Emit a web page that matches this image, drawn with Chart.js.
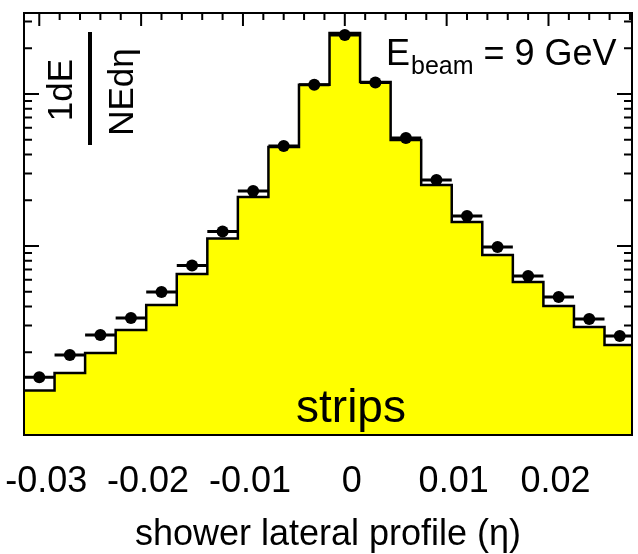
<!DOCTYPE html>
<html>
<head>
<meta charset="utf-8">
<script src="https://cdn.jsdelivr.net/npm/chart.js@4"></script>
<style>
  html, body { margin: 0; padding: 0; background: #fff; }
  canvas { display: block; }
</style>
</head>
<body>
<canvas id="chart" width="638" height="554"></canvas>
<script>
// strip bins in eta (centres), width of one strip
const binCenters = [-0.030, -0.027, -0.024, -0.021, -0.018, -0.015, -0.012, -0.009, -0.006, -0.003,
                     0.000,  0.003,  0.006,  0.009,  0.012,  0.015,  0.018,  0.021,  0.024,  0.027];
const binWidth = 0.003;

// simulation (yellow histogram)
const simValues = [0.112, 0.146, 0.198, 0.280, 0.409, 0.654, 1.12, 2.10, 4.48, 11.5,
                   25.2, 12.0, 4.98, 2.52, 1.44, 0.873, 0.580, 0.403, 0.293, 0.223];
// test beam data (black points)
const dataValues = [0.137, 0.192, 0.260, 0.336, 0.498, 0.744, 1.245, 2.30, 4.55, 11.5,
                    24.4, 11.9, 5.14, 2.72, 1.575, 0.985, 0.635, 0.462, 0.331, 0.256];

const xTickValues = [-0.03, -0.02, -0.01, 0, 0.01, 0.02];
const xTickLabels = ['-0.03', '-0.02', '-0.01', '0', '0.01', '0.02'];

const FONT = "'Liberation Sans', Arial, sans-serif";

// step outline: one point per bin low edge, plus the last high edge
// (chart.js 'before' holds each value until the next point)
const histPoints = binCenters.map((c, i) => ({ x: c - binWidth / 2, y: simValues[i] }));
histPoints.push({ x: binCenters[binCenters.length - 1] + binWidth / 2, y: simValues[simValues.length - 1] });

const dataPoints = binCenters.map((c, i) => ({ x: c, y: dataValues[i] }));

const frameTicks = {
    id: 'frameTicks',
    beforeDatasetsDraw(chart) {
        const { ctx, chartArea: a, scales: { x, y } } = chart;
        ctx.save();
        ctx.strokeStyle = '#000';
        ctx.lineWidth = 2;
        ctx.beginPath();
        // top ticks, every 0.002
        for (let i = -15; i <= 14; i++) {
            const px = x.getPixelForValue(i * 0.002);
            if (px < a.left || px > a.right) continue;
            const len = (i % 5 === 0) ? 13 : 7;
            ctx.moveTo(px, a.top);
            ctx.lineTo(px, a.top + len);
        }
        // log ticks left and right
        for (let e = -2; e <= 1; e++) {
            for (let m = 1; m <= 9; m++) {
                const v = m * Math.pow(10, e);
                if (v < y.min || v > y.max) continue;
                const py = y.getPixelForValue(v);
                const len = m === 1 ? 15 : 8;
                ctx.moveTo(a.left, py); ctx.lineTo(a.left + len, py);
                ctx.moveTo(a.right, py); ctx.lineTo(a.right - len, py);
            }
        }
        ctx.stroke();
        ctx.restore();
    },
    afterDatasetsDraw(chart) {
        const { ctx, chartArea: a, scales: { x, y } } = chart;
        ctx.save();
        // horizontal error bars = strip width
        ctx.strokeStyle = '#000';
        ctx.lineWidth = 3;
        ctx.beginPath();
        dataPoints.forEach(p => {
            const py = y.getPixelForValue(p.y);
            ctx.moveTo(Math.max(a.left, x.getPixelForValue(p.x - binWidth / 2)), py);
            ctx.lineTo(Math.min(a.right, x.getPixelForValue(p.x + binWidth / 2)), py);
        });
        ctx.stroke();

        // frame
        ctx.lineWidth = 2;
        ctx.strokeRect(a.left, a.top, a.right - a.left, a.bottom - a.top);

        ctx.fillStyle = '#000';
        ctx.textAlign = 'left';
        ctx.textBaseline = 'alphabetic';

        // E_beam label
        let tx = a.left + 362;
        ctx.font = '36px ' + FONT;
        ctx.fillText('E', tx, a.top + 52);
        tx += ctx.measureText('E').width + 1;
        ctx.font = '25px ' + FONT;
        ctx.fillText('beam', tx, a.top + 61);
        tx += ctx.measureText('beam').width;
        ctx.font = '36px ' + FONT;
        ctx.fillText(' = 9 GeV', tx, a.top + 52);

        // strips
        ctx.font = '46px ' + FONT;
        ctx.textAlign = 'center';
        ctx.fillText('strips', a.left + 327, a.bottom - 13);

        // y title as a rotated fraction
        ctx.font = '35px ' + FONT;
        ctx.save();
        ctx.translate(72, 90);
        ctx.rotate(-Math.PI / 2);
        ctx.fillText('1dE', 0, 0);
        ctx.restore();
        ctx.save();
        ctx.translate(133, 92);
        ctx.rotate(-Math.PI / 2);
        ctx.fillText('NEdη', 0, 0);
        ctx.restore();
        ctx.lineWidth = 4;
        ctx.beginPath();
        ctx.moveTo(90, 32);
        ctx.lineTo(90, 145);
        ctx.stroke();

        ctx.restore();
    }
};

new Chart(document.getElementById('chart').getContext('2d'), {
    type: 'line',
    data: {
        datasets: [
            {
                label: 'sim',
                data: histPoints,
                stepped: 'before',
                borderColor: '#000',
                borderWidth: 2.5,
                backgroundColor: '#ffff00',
                fill: 'start',
                pointRadius: 0,
                order: 2,
            },
            {
                label: 'data',
                data: dataPoints,
                showLine: false,
                pointRadius: 6,
                pointBackgroundColor: '#000',
                pointBorderColor: '#000',
                pointBorderWidth: 0,
                order: 1,
            }
        ]
    },
    options: {
        responsive: false,
        animation: false,
        events: [],
        layout: { padding: { top: 13, right: 1, left: 0, bottom: 0 } },
        plugins: {
            legend: { display: false },
            tooltip: { enabled: false },
        },
        scales: {
            x: {
                type: 'linear',
                min: -0.0315,
                max: 0.0282,
                grid: { display: false, drawTicks: false },
                border: { display: false },
                afterBuildTicks: (s) => { s.ticks = xTickValues.map(v => ({ value: v })); },
                afterFit: (s) => {
                    s.height = 119;
                    s.paddingLeft = 0;
                    s.paddingRight = 0;
                },
                ticks: {
                    autoSkip: false,
                    maxRotation: 0,
                    padding: 25,
                    labelOffset: 7,
                    color: '#000',
                    font: { family: FONT, size: 36 },
                    callback: (v) => xTickLabels[xTickValues.indexOf(v)],
                },
                title: {
                    display: true,
                    text: 'shower lateral profile (η)',
                    color: '#000',
                    font: { family: FONT, size: 36 },
                    padding: { top: 0, bottom: -3 },
                },
            },
            y: {
                type: 'logarithmic',
                min: 0.0571,
                max: 34.1,
                grid: { display: false, drawTicks: false },
                border: { display: false },
                ticks: { display: false },
                afterFit: (s) => { s.width = 24; },
            }
        }
    },
    plugins: [frameTicks]
});
</script>
</body>
</html>
